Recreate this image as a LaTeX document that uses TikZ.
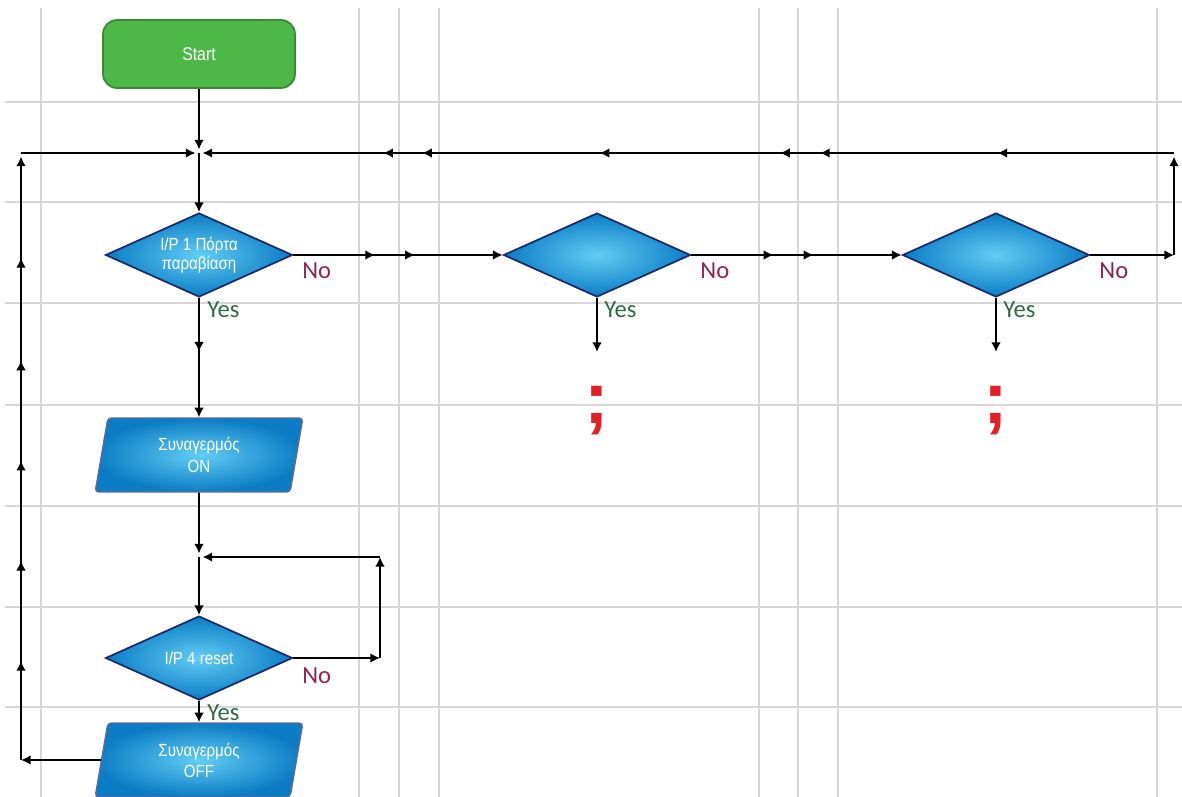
\documentclass[tikz,border=0pt]{standalone}
\usepackage{fontspec}
\setmainfont{Liberation Sans}
\newfontfamily\boxfont[FakeStretch=0.86]{Liberation Sans}
\newfontfamily\labelfont{Carlito}
\usepackage{tikz}
\usetikzlibrary{shapes.geometric, arrows.meta, decorations.markings}

\definecolor{startgreen}{HTML}{4DB748}
\definecolor{boxblue}{HTML}{0B7CC4}
\definecolor{boxlight}{HTML}{62CDF4}
\definecolor{boxedge}{HTML}{1B2A6B}
\definecolor{nored}{HTML}{8C2456}
\definecolor{yesgreen}{HTML}{2E6A45}
\definecolor{gridgray}{HTML}{D6D6D6}
\definecolor{qred}{HTML}{E41E26}

\tikzstyle{startbox} = [rectangle, rounded corners=8pt, minimum width=3.84cm, minimum height=1.36cm, fill=startgreen, draw=startgreen!75!black, line width=1pt, text=white, font=\boxfont\fontsize{10.5}{12}\selectfont]
\tikzstyle{decision} = [diamond, aspect=2.2, minimum width=3.74cm, minimum height=1.68cm, inner sep=0pt, inner color=boxlight, outer color=boxblue, draw=boxedge, line width=1pt, text=white, align=center, font=\boxfont\fontsize{10}{9.5}\selectfont]
\tikzstyle{iobox} = [trapezium, trapezium left angle=82, trapezium right angle=98, trapezium stretches=true, minimum width=4.18cm, minimum height=1.48cm, inner color=boxlight, outer color=boxblue, draw=boxedge!70, line width=0.8pt, rounded corners=2pt, text=white, align=center, font=\boxfont\fontsize{10}{12}\selectfont]
\tikzstyle{arrow} = [line width=1pt,-{Latex[length=5.5pt,width=5.5pt]}]
\tikzstyle{nolabel} = [anchor=base west, inner sep=0pt, text=nored, font=\labelfont\fontsize{14}{14}\selectfont]
\tikzstyle{yeslabel} = [anchor=base west, inner sep=0pt, text=yesgreen, font=\labelfont\fontsize{14}{14}\selectfont]
\tikzstyle{qmark} = [anchor=base, inner sep=0pt, text=qred, font=\fontsize{42}{42}\selectfont\bfseries]
\tikzstyle{gridline} = [gridgray, line width=1pt]
\tikzset{midarrow/.style={postaction={decorate, decoration={markings, mark=at position #1 with {\arrow{Latex[length=5.5pt,width=5.5pt]}}}}}}

\begin{document}
\begin{tikzpicture}[x=0.02cm, y=-0.02cm]
\useasboundingbox (0,0) rectangle (1182,797);

% sheet grid
\foreach \x in {41,359,399,439,759,798,838,1157}
  \draw[gridline] (\x,8) -- (\x,797);
\foreach \y in {102,202,303,405,506,607,707}
  \draw[gridline] (5,\y) -- (1182,\y);

% Nodes
\node (start) [startbox] at (199,54) {Start};
\node (door) [decision] at (199,255) {I/P 1 Πόρτα\\παραβίαση};
\node (dec2) [decision] at (597,255) {};
\node (dec3) [decision] at (996,255) {};
\node (alarmon) [iobox] at (199,455) {Συναγερμός\\ON};
\node (reset) [decision] at (199,658) {I/P 4 reset};
\node (alarmoff) [iobox] at (199,760) {Συναγερμός\\OFF};

\node (semi2) [qmark] at (597,423) {;};
\node (semi3) [qmark] at (996,423) {;};

% junctions and corners
\coordinate (j1) at (199,153);
\coordinate (j2) at (199,557);
\coordinate (tl) at (21,153);
\coordinate (bl) at (21,760);
\coordinate (tr) at (1174,153);
\coordinate (rr) at (1174,255);
\coordinate (rc) at (380,557);
\coordinate (rn) at (380,658);
\coordinate (q2) at (597,352);
\coordinate (q3) at (996,352);

% Arrows
\draw [arrow, shorten >=2pt] (start) -- (j1);
\draw [arrow] (j1) -- (door);
\draw [arrow, midarrow=0.45] (door) -- (alarmon);
\draw [arrow, shorten >=2pt] (alarmon) -- (j2);
\draw [arrow] (j2) -- (reset);
\draw [arrow] (reset) -- (alarmoff);

\draw [arrow] (reset.east) -- (rn);
\draw [arrow] (rn) -- (rc);
\draw [arrow, shorten >=2pt] (rc) -- (j2);

\draw [arrow, midarrow=0.39, midarrow=0.58] (door.east) -- (dec2.west);
\draw [arrow, midarrow=0.39, midarrow=0.58] (dec2.east) -- (dec3.west);
\draw [arrow] (dec3.east) -- (rr);
\draw [arrow, shorten >=2pt] (rr) -- (tr);
\draw [arrow, shorten >=2pt, midarrow=0.181, midarrow=0.363, midarrow=0.404, midarrow=0.589, midarrow=0.771, midarrow=0.811] (tr) -- (j1);

\draw [arrow] (dec2.south) -- (q2);
\draw [arrow] (dec3.south) -- (q3);

\draw [arrow] (alarmoff.west) -- (bl);
\draw [arrow, shorten >=2pt, midarrow=0.163, midarrow=0.328, midarrow=0.493, midarrow=0.658, midarrow=0.827] (bl) -- (tl);
\draw [arrow, shorten >=2pt] (tl) -- (j1);

% Yes / No
\node [nolabel] at (302,278) {No};
\node [yeslabel] at (207,317) {Yes};
\node [nolabel] at (700,278) {No};
\node [yeslabel] at (604,317) {Yes};
\node [nolabel] at (1099,278) {No};
\node [yeslabel] at (1003,317) {Yes};
\node [nolabel] at (302,683) {No};
\node [yeslabel] at (207,720) {Yes};

\end{tikzpicture}
\end{document}
